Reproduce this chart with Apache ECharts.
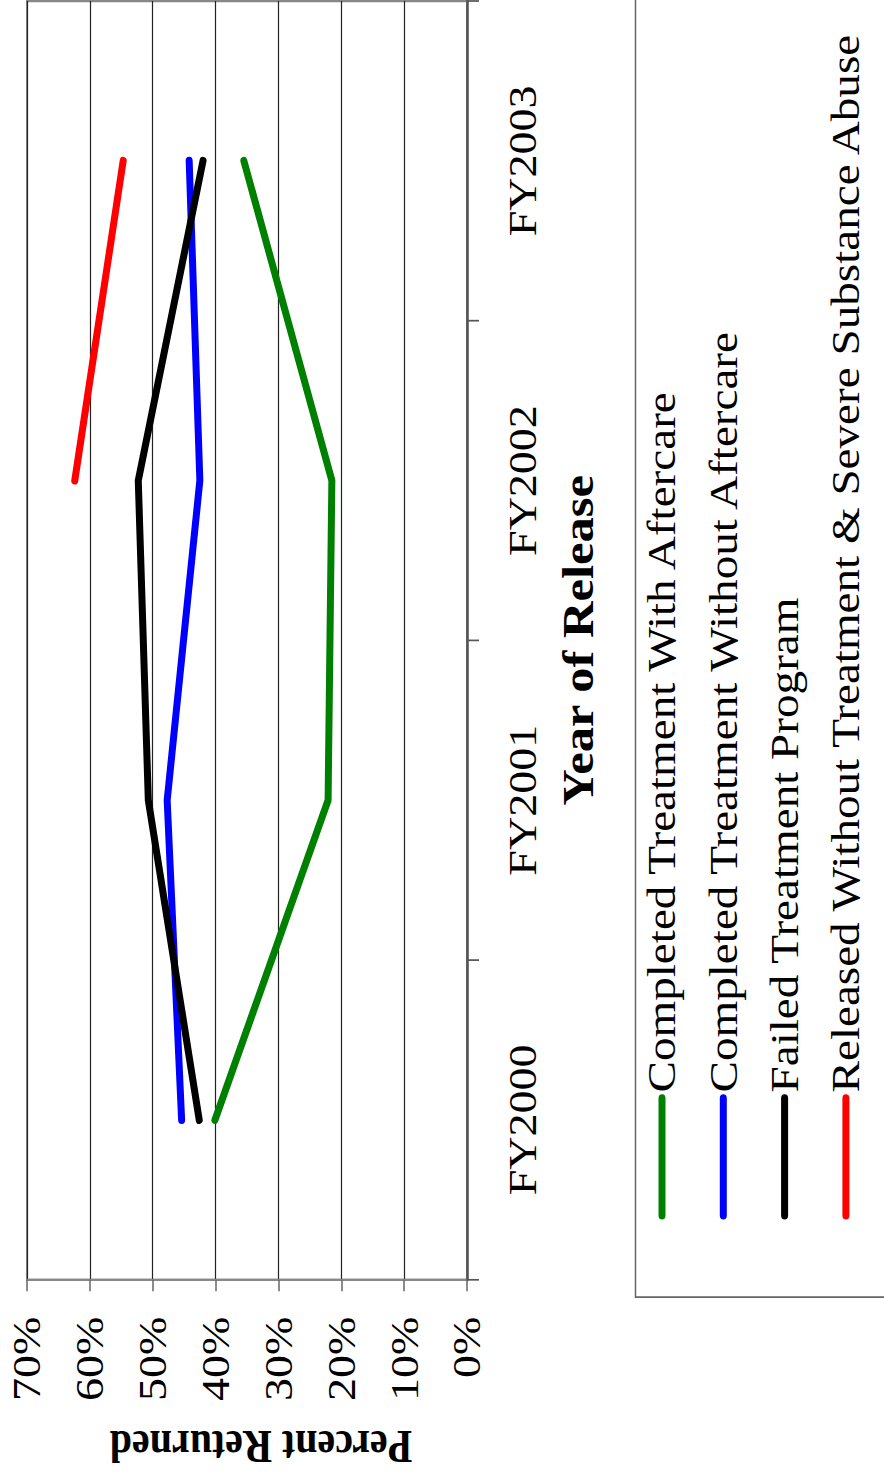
<!DOCTYPE html>
<html>
<head>
<meta charset="utf-8">
<script src="https://cdn.jsdelivr.net/npm/echarts@6/dist/echarts.min.js"></script>
<style>
  html, body { margin: 0; padding: 0; width: 884px; height: 1473px; overflow: hidden; background: #fff; }
  /* The chart is laid out landscape, then turned a quarter turn counter-clockwise
     and widened along its own x direction to fill the portrait page. */
  #chart {
    position: absolute; left: 0; top: 0;
    width: 1281px; height: 884px;
    transform-origin: 0 0;
    transform: translate(0, 1473px) rotate(-90deg) scale(1.15, 1);
  }
</style>
</head>
<body>
<div id="chart"></div>
<script>
  const categories = ['FY2000', 'FY2001', 'FY2002', 'FY2003'];
  const seriesNames = [
    'Completed Treatment With Aftercare',
    'Completed Treatment Without Aftercare',
    'Failed Treatment Program',
    'Released Without Treatment & Severe Substance Abuse'
  ];
  const withAftercare = [40.1, 22.1, 21.5, 35.5];
  const withoutAftercare = [45.4, 47.7, 42.5, 44.2];
  const failedProgram = [42.6, 50.7, 52.3, 42.0];
  const releasedUntreated = [null, null, 62.4, 54.7];
  const seriesColors = ['#008000', '#0000ff', '#000000', '#ff0000'];
  const yTicks = { min: 0, max: 70, interval: 10 };

  const FONT = 'Liberation Serif';
  const values = [withAftercare, withoutAftercare, failedProgram, releasedUntreated];

  const chart = echarts.init(document.getElementById('chart'), null, { renderer: 'svg' });
  chart.setOption({
    backgroundColor: '#ffffff',
    animation: false,
    grid: {
      left: 168, right: 1, top: 27, bottom: 417,
      outerBoundsMode: 'none',
      containLabel: false,
      show: true, borderColor: '#888888', borderWidth: 2, backgroundColor: 'transparent'
    },
    // frame around the legend, running off the page edges
    graphic: [{
      type: 'rect',
      left: 150.4, top: 633,
      shape: { x: 0, y: 0, width: 1300, height: 400 },
      style: { fill: 'none', stroke: '#666666', lineWidth: 1.5 },
      silent: true, z: 0
    }],
    xAxis: {
      type: 'category',
      data: categories,
      boundaryGap: true,
      name: 'Year of Release',
      nameLocation: 'middle',
      nameGap: 89,
      nameTextStyle: { fontFamily: FONT, fontSize: 44, fontWeight: 'bold', color: '#000' },
      axisLine: { lineStyle: { color: '#555555', width: 2.5 } },
      axisTick: { show: true, length: 12, lineStyle: { color: '#555555', width: 1.5 } },
      axisLabel: { margin: 36, fontFamily: FONT, fontSize: 40, color: '#000' },
      splitLine: { show: false }
    },
    yAxis: {
      type: 'value',
      min: yTicks.min, max: yTicks.max, interval: yTicks.interval,
      name: 'Percent Returned',
      nameLocation: 'middle',
      nameGap: 125,
      nameTextStyle: { fontFamily: FONT, fontSize: 40, fontWeight: 'bold', color: '#000', padding: [0, 28, 0, 0] },
      axisLine: { show: true, lineStyle: { color: '#888888', width: 2 } },
      axisTick: { show: true, length: 10, lineStyle: { color: '#666666', width: 1.5 } },
      axisLabel: { margin: 32, fontFamily: FONT, fontSize: 40, color: '#000', formatter: '{value}%' },
      splitLine: { show: true, lineStyle: { color: '#222222', width: 1.2 } }
    },
    legend: {
      orient: 'vertical',
      left: 150.4, top: 633,
      padding: [8, 10, 4, 70],
      itemWidth: 102, itemHeight: 42, itemGap: 19.3,
      data: seriesNames,
      lineStyle: { width: 7, cap: 'round' },
      itemStyle: { opacity: 0, borderWidth: 0 },
      textStyle: { fontFamily: FONT, fontSize: 41, lineHeight: 42, color: '#000' }
    },
    series: seriesNames.map((name, i) => ({
      name: name,
      type: 'line',
      data: values[i],
      symbol: 'none',
      connectNulls: false,
      color: seriesColors[i],
      lineStyle: { color: seriesColors[i], width: 7, cap: 'round', join: 'round' }
    }))
  });
</script>
</body>
</html>
